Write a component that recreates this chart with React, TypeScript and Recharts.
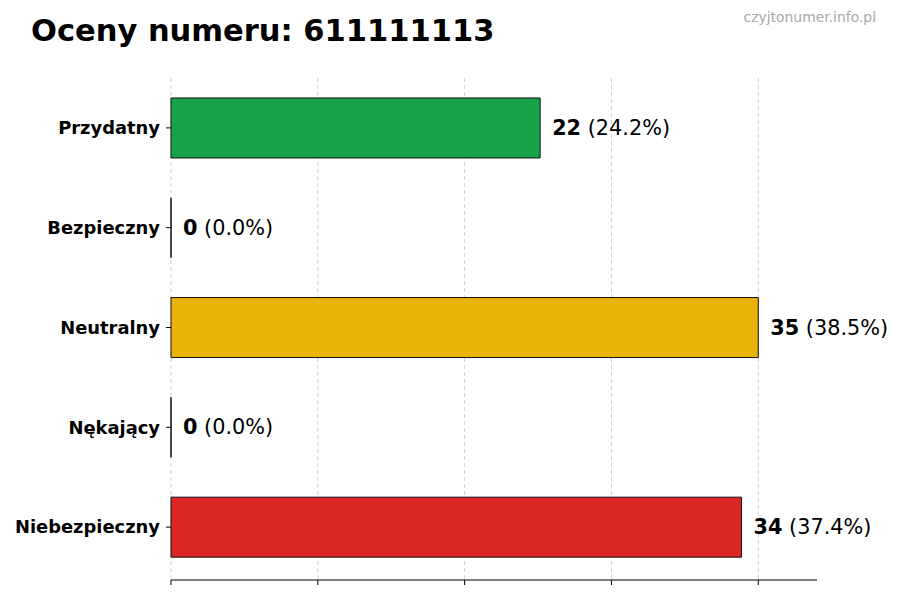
import React from 'react';
import { BarChart, Bar, XAxis, YAxis, CartesianGrid, LabelList, Cell } from 'recharts';

const categories = ['Przydatny', 'Bezpieczny', 'Neutralny', 'Nękający', 'Niebezpieczny'];
const counts = [22, 0, 35, 0, 34];
const percents = ['24.2', '0.0', '38.5', '0.0', '37.4'];
const barColors = ['#18a349', '#9ca3af', '#e8b40a', '#6b7280', '#dd2727'];
const xTicks = [0, 8.75, 17.5, 26.25, 35];

const data = categories.map((name, i) => ({ name, count: counts[i], pct: percents[i] }));

const FONT = '"DejaVu Sans", sans-serif';

// draws even the zero-width bars, as a thin outline
const BarShape = (props: any) => {
  const { x, y, width, height, fill } = props;
  const w = Math.max(width || 0, 0);
  return (
    <path
      d={`M${x},${y} h${w} v${height} h${-w} Z`}
      fill={fill}
      stroke="#111"
      strokeWidth={1}
    />
  );
};

const ValueLabel = (props: any) => {
  const { x, y, width, height, index } = props;
  return (
    <text x={x + width + 12} y={y + height / 2 + 7} fontFamily={FONT} fontSize={20.8} fill="#000">
      <tspan fontWeight="bold">{counts[index]}</tspan>
      <tspan> ({percents[index]}%)</tspan>
    </text>
  );
};

// grid only at the tick values, not at the plot edge
const gridX = (p: any) => {
  const scale = p?.xAxis?.scale;
  if (typeof scale === 'function') return xTicks.map((t) => scale(t));
  const left = p.offset.left;
  const w = p.offset.width;
  return xTicks.map((t) => left + (t / 38.5) * w);
};

const App: React.FC = () => {
  return (
    <div style={{ position: 'absolute', left: 0, top: 0, width: 900, height: 600, background: '#fff', fontFamily: FONT }}>
      <BarChart
        width={900}
        height={600}
        layout="vertical"
        data={data}
        margin={{ top: 78, right: 83, left: 0, bottom: 0 }}
        barCategoryGap="20%"
      >
        <CartesianGrid
          horizontal={false}
          vertical
          stroke="#d0d0d0"
          strokeDasharray="4 3"
          verticalCoordinatesGenerator={gridX}
        />
        <XAxis
          type="number"
          domain={[0, 38.5]}
          ticks={xTicks}
          height={20}
          axisLine={{ stroke: '#000' }}
          tickLine={{ stroke: '#000' }}
          tickSize={5}
          tickFormatter={() => ''}
        />
        <YAxis
          type="category"
          dataKey="name"
          width={171}
          padding={{ top: 0, bottom: 3 }}
          axisLine={false}
          tickLine={{ stroke: '#000' }}
          tickSize={5}
          tickMargin={6}
          tick={{ fill: '#000', fontSize: 17.9, fontWeight: 'bold', fontFamily: FONT }}
        />
        <Bar dataKey="count" isAnimationActive={false} shape={<BarShape />}>
          {data.map((entry, index) => (
            <Cell key={`cell-${index}`} fill={barColors[index]} />
          ))}
          <LabelList dataKey="count" content={<ValueLabel />} />
        </Bar>
      </BarChart>
      <svg width={900} height={600} style={{ position: 'absolute', left: 0, top: 0, pointerEvents: 'none' }}>
        <text x={31} y={41} fontFamily={FONT} fontSize={30.5} fontWeight="bold" fill="#000">
          Oceny numeru: 611111113
        </text>
        <text x={876} y={22} textAnchor="end" fontFamily={FONT} fontSize={13.9} fill="#a8a8a8">
          czyjtonumer.info.pl
        </text>
      </svg>
    </div>
  );
};

export default App;
